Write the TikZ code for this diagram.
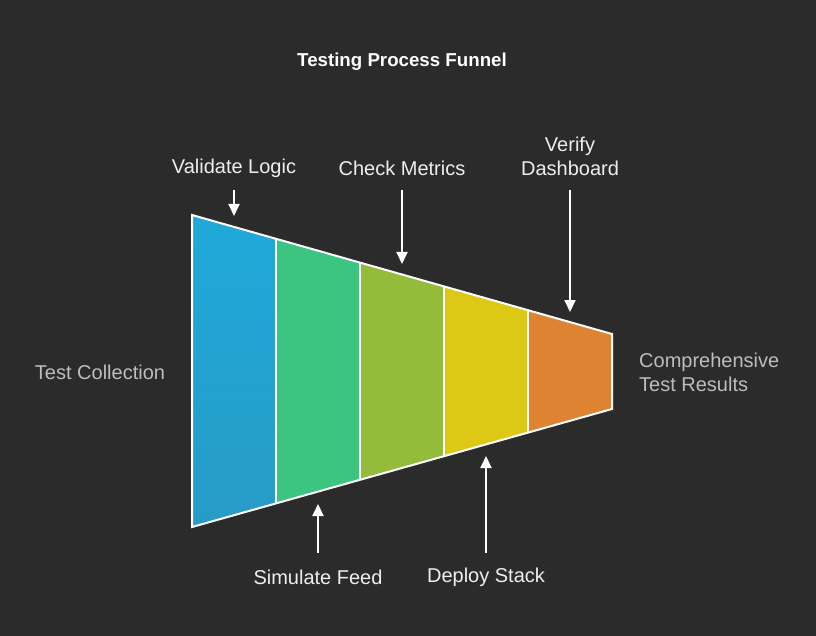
\documentclass[tikz,border=0pt]{standalone}
\usepackage{fontspec}
\setmainfont{Liberation Sans}
\usetikzlibrary{arrows.meta}
\definecolor{bg}{HTML}{2B2B2B}
\definecolor{segblue}{HTML}{1FA9D9}
\definecolor{segbluedark}{HTML}{279BC6}
\definecolor{seggreen}{HTML}{3CC581}
\definecolor{segolive}{HTML}{94BB3A}
\definecolor{segyellow}{HTML}{DEC816}
\definecolor{segorange}{HTML}{DE8332}
\definecolor{softgrey}{HTML}{BDBDBD}
\definecolor{labelwhite}{HTML}{EEEEEE}
\tikzset{
  x=1pt, y=-1pt,
  segment/.style={draw=white, line width=2pt, line join=miter},
  steplabel/.style={text=labelwhite, font=\fontsize{20}{24}\selectfont, align=center, inner sep=0pt},
  sidelabel/.style={text=softgrey, font=\fontsize{20}{24}\selectfont, inner sep=0pt},
  pointer/.style={draw=white, line width=2pt, -{Triangle[length=12pt,width=11pt]}}
}
\begin{document}
\begin{tikzpicture}
\fill[bg] (0,0) rectangle (816,636);
\useasboundingbox (0,0) rectangle (816,636);

% funnel outline corners, five segments 84 wide
\coordinate (t0) at (192,215);   \coordinate (b0) at (192,527);
\coordinate (t1) at (276,238.8); \coordinate (b1) at (276,503.4);
\coordinate (t2) at (360,262.6); \coordinate (b2) at (360,479.8);
\coordinate (t3) at (444,286.4); \coordinate (b3) at (444,456.2);
\coordinate (t4) at (528,310.2); \coordinate (b4) at (528,432.6);
\coordinate (t5) at (612,334);   \coordinate (b5) at (612,409);

\shade[top color=segblue, bottom color=segbluedark] (t0) -- (t1) -- (b1) -- (b0) -- cycle;
\fill[seggreen]  (t1) -- (t2) -- (b2) -- (b1) -- cycle;
\fill[segolive]  (t2) -- (t3) -- (b3) -- (b2) -- cycle;
\fill[segyellow] (t3) -- (t4) -- (b4) -- (b3) -- cycle;
\fill[segorange] (t4) -- (t5) -- (b5) -- (b4) -- cycle;

\draw[segment] (t0) -- (t5) -- (b5) -- (b0) -- cycle;
\foreach \i in {1,2,3,4} \draw[segment] (t\i) -- (b\i);

% title
\node[text=white, font=\fontsize{18.7}{22}\selectfont\bfseries, inner sep=0pt] (title) at (402,62) {Testing Process Funnel};

% side labels
\node[sidelabel] (input) at (100,372) {Test Collection};
\node[sidelabel, align=left, anchor=west] (output) at (639,372) {Comprehensive\\Test Results};

% step labels above
\node[steplabel] (validate) at (234,168) {Validate Logic};
\node[steplabel] (metrics) at (402,168) {Check Metrics};
\node[steplabel] (verify) at (570,156) {Verify\\Dashboard};

% step labels below
\node[steplabel] (simulate) at (318,577) {Simulate Feed};
\node[steplabel] (deploy) at (486,577) {Deploy Stack};

% arrow tips near the funnel edges
\coordinate (validateTip) at (234,216);
\coordinate (metricsTip) at (402,264);
\coordinate (verifyTip) at (570,312);
\coordinate (simulateTip) at (318,504);
\coordinate (deployTip) at (486,456);

\draw[pointer] (234,190) -- (validateTip);
\draw[pointer] (402,190) -- (metricsTip);
\draw[pointer] (570,190) -- (verifyTip);
\draw[pointer] (318,553) -- (simulateTip);
\draw[pointer] (486,553) -- (deployTip);
\end{tikzpicture}
\end{document}
